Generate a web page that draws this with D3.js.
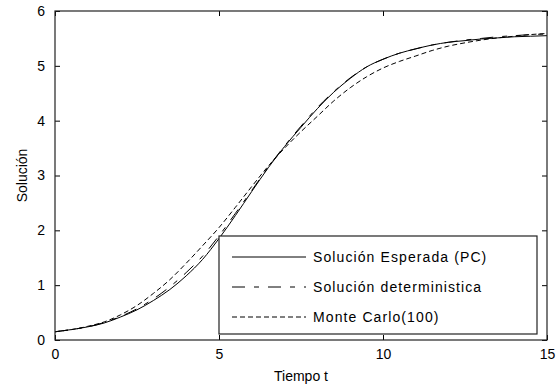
<!DOCTYPE html>
<html>
<head>
<meta charset="utf-8">
<script src="https://cdn.jsdelivr.net/npm/d3@7"></script>
<style>
  body { margin: 0; background: #fff; }
  text { font-family: "Liberation Sans", Arial, sans-serif; fill: #000; }
</style>
</head>
<body>
<script>
// time grid
const tiempo = [0,0.5,1,1.5,2,2.5,3,3.5,4,4.5,5,5.5,6,6.5,7,7.5,8,8.5,9,9.5,10,10.5,11,11.5,12,12.5,13,13.5,14,14.5,15];

// Solución Esperada (PC)
const esperada = [0.15,0.19,0.24,0.31,0.42,0.55,0.72,0.92,1.17,1.47,1.85,2.27,2.71,3.14,3.53,3.88,4.22,4.52,4.77,4.98,5.12,5.23,5.31,5.38,5.43,5.46,5.49,5.51,5.53,5.54,5.55];
// Solución deterministica
const determinista = [0.15,0.19,0.24,0.32,0.43,0.57,0.75,0.97,1.23,1.53,1.90,2.31,2.73,3.15,3.54,3.90,4.24,4.53,4.78,4.98,5.12,5.23,5.31,5.38,5.43,5.47,5.50,5.53,5.55,5.57,5.58];
// Monte Carlo(100)
const monteCarlo = [0.15,0.19,0.25,0.33,0.46,0.63,0.85,1.10,1.40,1.72,2.05,2.42,2.80,3.17,3.50,3.80,4.08,4.36,4.60,4.80,4.96,5.08,5.18,5.28,5.36,5.42,5.47,5.51,5.54,5.57,5.59];

const xTicks = [0,5,10,15];
const yTicks = [0,1,2,3,4,5,6];
const series = [
  {name: 'Solución Esperada (PC)', values: esperada, dash: null},
  {name: 'Solución deterministica', values: determinista, dash: '13,9,5,9'},
  {name: 'Monte Carlo(100)', values: monteCarlo, dash: '5,3'}
];

const W = 558, H = 385;
const m = {left: 55, right: 11, top: 11, bottom: 45};

const svg = d3.select('body').append('svg')
  .attr('width', W).attr('height', H);

const x = d3.scaleLinear().domain([0, 15]).range([m.left, W - m.right]);
const y = d3.scaleLinear().domain([0, 6]).range([H - m.bottom, m.top]);

// curves
const line = d3.line()
  .x((d, i) => x(tiempo[i]))
  .y(d => y(d))
  .curve(d3.curveMonotoneX);

svg.append('g').selectAll('path')
  .data(series)
  .enter().append('path')
  .attr('d', d => line(d.values))
  .attr('fill', 'none')
  .attr('stroke', '#000')
  .attr('stroke-width', 1)
  .attr('stroke-dasharray', d => d.dash);

// axes, ticks inward on all four sides
const tickLen = 5;
const fmt = d3.format('d');
svg.append('g').attr('transform', `translate(0,${y(0)})`)
  .call(d3.axisBottom(x).tickValues(xTicks).tickFormat(fmt).tickSizeInner(-tickLen).tickSizeOuter(0).tickPadding(9))
  .call(g => g.select('.domain').remove());
svg.append('g').attr('transform', `translate(0,${y(6)})`)
  .call(d3.axisTop(x).tickValues(xTicks).tickSizeInner(-tickLen).tickSizeOuter(0).tickFormat(''))
  .call(g => g.select('.domain').remove());
svg.append('g').attr('transform', `translate(${x(0)},0)`)
  .call(d3.axisLeft(y).tickValues(yTicks).tickFormat(fmt).tickSizeInner(-tickLen).tickSizeOuter(0).tickPadding(10))
  .call(g => g.select('.domain').remove());
svg.append('g').attr('transform', `translate(${x(15)},0)`)
  .call(d3.axisRight(y).tickValues(yTicks).tickSizeInner(-tickLen).tickSizeOuter(0).tickFormat(''))
  .call(g => g.select('.domain').remove());

svg.selectAll('.tick text')
  .style('font-size', '14px')
  .style('font-family', '"Liberation Sans", Arial, sans-serif');
svg.selectAll('.tick line').attr('stroke', '#000');

svg.append('rect')
  .attr('x', x(0)).attr('y', y(6))
  .attr('width', x(15) - x(0)).attr('height', y(0) - y(6))
  .attr('fill', 'none').attr('stroke', '#222').attr('stroke-width', 1.2);

// axis labels
svg.append('text')
  .attr('x', (x(0) + x(15)) / 2).attr('y', 381)
  .attr('text-anchor', 'middle')
  .style('font-size', '14px')
  .text('Tiempo t');
svg.append('text')
  .attr('transform', `translate(27,${(y(0) + y(6)) / 2}) rotate(-90)`)
  .attr('text-anchor', 'middle')
  .style('font-size', '14px')
  .text('Solución');

// legend
const lg = svg.append('g');
lg.append('rect')
  .attr('x', x(5)).attr('y', 236)
  .attr('width', 318).attr('height', 98)
  .attr('fill', '#fff').attr('stroke', '#222').attr('stroke-width', 1.2);

const rows = lg.selectAll('g.row')
  .data(series)
  .enter().append('g')
  .attr('transform', (d, i) => `translate(232,${257 + i * 30})`);
rows.append('line')
  .attr('x1', 0).attr('x2', 74)
  .attr('stroke', '#000').attr('stroke-width', 1)
  .attr('stroke-dasharray', d => d.dash);
rows.append('text')
  .attr('x', 81).attr('y', 5)
  .style('font-size', '14px')
  .style('letter-spacing', '1.1px')
  .text(d => d.name);
</script>
</body>
</html>
